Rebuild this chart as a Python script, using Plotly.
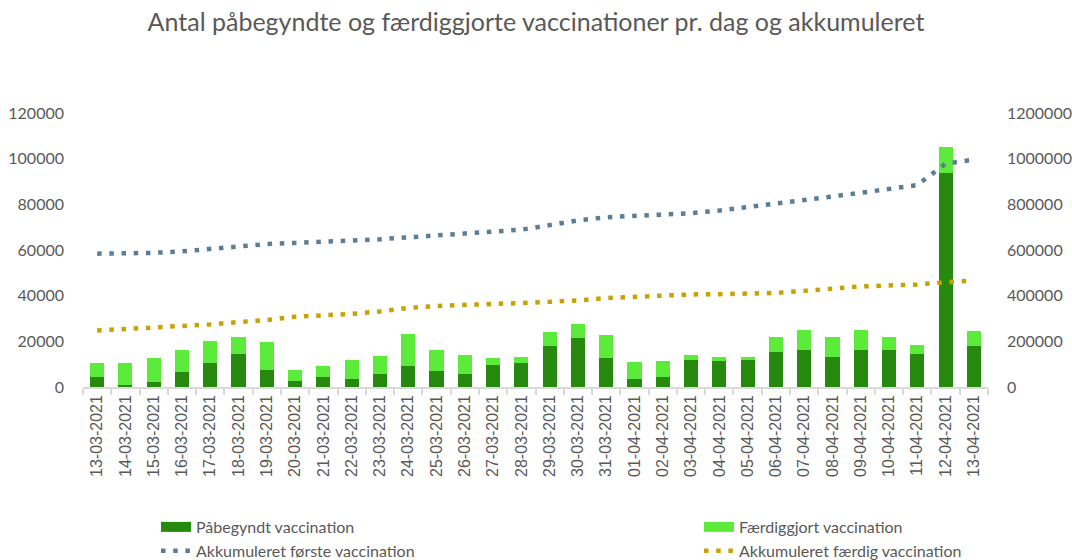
import plotly.graph_objects as go

dates = [f"{d:02d}-03-2021" for d in range(13, 32)] + [f"{d:02d}-04-2021" for d in range(1, 14)]

paabegyndt = [4500, 1000, 2400, 6500, 10500, 14500, 7500, 2800, 4500, 3700, 5900, 9300, 7200, 5900, 9600, 10500,
              17800, 21300, 12700, 3700, 4400, 11700, 11400, 12000, 15400, 16200, 13200, 16200, 16300, 14600, 93900, 18100]

faerdiggjort = [5900, 9600, 10200, 9800, 9500, 7400, 12000, 4700, 4800, 8000, 7500, 14000, 8900, 8100, 3300, 2800,
                6300, 6300, 10200, 7300, 7200, 2300, 1800, 1300, 6500, 8600, 8900, 8800, 5500, 4000, 11400, 6500]

akk_foerste = [584000, 585000, 587500, 594000, 604000, 617500, 626000, 631000, 635000, 641500, 647000, 655500,
               663000, 670000, 679000, 689000, 709000, 730000, 743500, 748000, 754000, 761000, 773000, 787500,
               805000, 821000, 834500, 850500, 868000, 884500, 978000, 996000]

akk_faerdig = [247500, 253000, 258500, 267500, 274000, 284500, 293500, 308000, 314000, 320000, 331000, 346000,
               355000, 361000, 364000, 367500, 372500, 379000, 389500, 395500, 402000, 405500, 406500, 409000,
               412000, 421000, 431000, 440500, 444500, 449000, 459000, 466500]

left_ticks = [0, 20000, 40000, 60000, 80000, 100000, 120000]
right_ticks = [0, 200000, 400000, 600000, 800000, 1000000, 1200000]

DARK = "#28890F"
LIGHT = "#5DEB3B"
BLUE = "#5C7E95"
GOLD = "#C7A200"
TXT = "#595959"
FONT = "Lato"

fig = go.Figure()
fig.add_trace(go.Bar(x=dates, y=paabegyndt, name="Påbegyndt vaccination", marker_color=DARK,
                     marker_line_width=0, width=0.5, showlegend=False, legendgroup="p"))
fig.add_trace(go.Bar(x=dates, y=faerdiggjort, name="Færdiggjort vaccination", marker_color=LIGHT,
                     marker_line_width=0, width=0.5, showlegend=False, legendgroup="f"))
fig.add_trace(go.Scatter(x=dates, y=akk_foerste, name="Akkumuleret første vaccination", yaxis="y2",
                         mode="lines", line=dict(color=BLUE, width=4.5, dash="4.5px,7.7px"), showlegend=False))
fig.add_trace(go.Scatter(x=dates, y=akk_faerdig, name="Akkumuleret færdig vaccination", yaxis="y2",
                         mode="lines", line=dict(color=GOLD, width=4.5, dash="4.5px,7.7px"), showlegend=False))

# legend entries (wide rectangle-like swatches as in the original)
legend_entries = [
    ("Påbegyndt vaccination", dict(color=DARK, width=13), "legend"),
    ("Akkumuleret første vaccination", dict(color=BLUE, width=4.5, dash="4.5px,7.7px"), "legend"),
    ("Færdiggjort vaccination", dict(color=LIGHT, width=13), "legend2"),
    ("Akkumuleret færdig vaccination", dict(color=GOLD, width=4.5, dash="4.5px,7.7px"), "legend2"),
]
for name, ln, lg in legend_entries:
    fig.add_trace(go.Scatter(x=[None], y=[None], name=name, mode="lines", line=ln, legend=lg,
                             hoverinfo="skip"))

legend_common = dict(orientation="v", yanchor="top", xanchor="left", yref="container", xref="container",
                     font=dict(family=FONT, size=16, color=TXT),
                     bgcolor="rgba(0,0,0,0)", tracegroupgap=0, traceorder="normal")

fig.update_layout(
    width=1072, height=560,
    margin=dict(l=83, r=84, t=113, b=173, autoexpand=False),
    paper_bgcolor="white", plot_bgcolor="white",
    barmode="stack", bargap=0.5,
    title=dict(text="Antal påbegyndte og færdiggjorte vaccinationer pr. dag og akkumuleret",
               x=0.5, xanchor="center", y=1 - 22 / 560, yanchor="middle",
               font=dict(family=FONT, size=25, color=TXT)),
    xaxis=dict(type="category", tickangle=-90, showgrid=False, showline=True, linecolor="#D9D9D9", linewidth=1.5,
               ticks="outside", tickson="boundaries", ticklen=6, tickcolor="#D9D9D9", tickwidth=1.5,
               automargin=False, tickfont=dict(family="Liberation Sans", size=16, color=TXT)),
    yaxis=dict(range=[0, 120000], tickvals=left_ticks, tickformat="d", showgrid=False, zeroline=False,
               showline=False, ticklabelstandoff=18, automargin=False,
               tickfont=dict(family=FONT, size=16, color=TXT)),
    yaxis2=dict(range=[0, 1200000], tickvals=right_ticks, tickformat="d", overlaying="y", side="right",
                showgrid=False, zeroline=False, showline=False, ticklabelstandoff=18, automargin=False,
                tickfont=dict(family=FONT, size=16, color=TXT)),
    legend=dict(x=156 / 1072, y=1 - 510 / 560, **legend_common),
    legend2=dict(x=699 / 1072, y=1 - 510 / 560, **legend_common),
)

fig.write_html("out.html", config={"displayModeBar": False},
               post_script="document.body.style.margin='0px';")
